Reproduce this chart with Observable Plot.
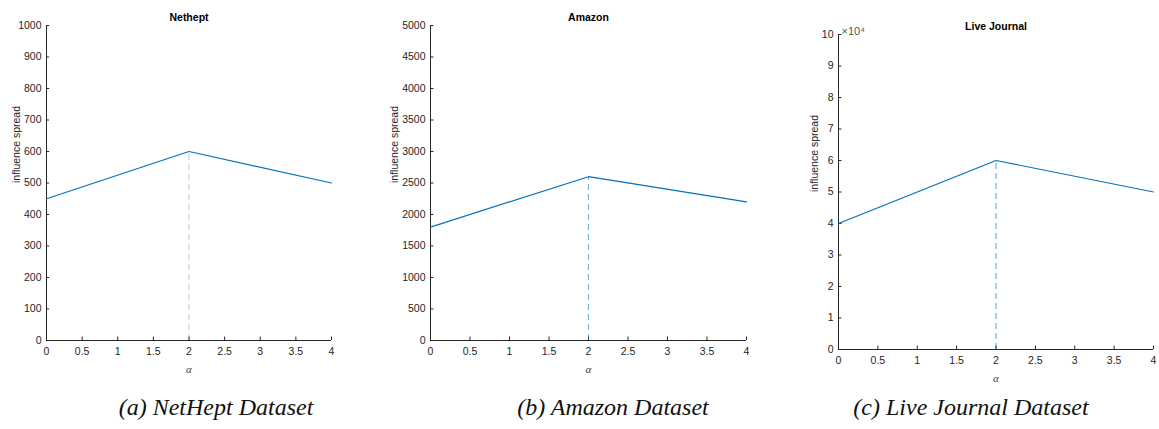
<!DOCTYPE html>
<html>
<head>
<meta charset="utf-8">
<script src="https://cdn.jsdelivr.net/npm/d3@7"></script>
<script src="https://cdn.jsdelivr.net/npm/@observablehq/plot@0.6"></script>
<style>
  body { margin: 0; background: #fff; }
  #wrap { position: relative; width: 1159px; height: 429px; overflow: hidden; background: #fff; }
  .panel { position: absolute; top: 0; }
  .caption { position: absolute; top: 394px; font-family: "Liberation Serif", "Times New Roman", serif; font-style: italic; font-size: 24px; color: #111; white-space: nowrap; transform: translateX(-50%); }
</style>
</head>
<body>
<div id="wrap"></div>
<script>
// ---- data ----
const alpha = [0, 2, 4];
const nethept = [450, 600, 500];
const amazon = [1800, 2600, 2200];
const liveJournal = [40000, 60000, 50000];
const alphaTicks = [0, 0.5, 1, 1.5, 2, 2.5, 3, 3.5, 4];
const netheptTicks = [0, 100, 200, 300, 400, 500, 600, 700, 800, 900, 1000];
const amazonTicks = [0, 500, 1000, 1500, 2000, 2500, 3000, 3500, 4000, 4500, 5000];
const ljTicks = [0, 10000, 20000, 30000, 40000, 50000, 60000, 70000, 80000, 90000, 100000];
const titles = ["Nethept", "Amazon", "Live Journal"];
const captions = ["(a) NetHept Dataset", "(b) Amazon Dataset", "(c) Live Journal Dataset"];
const peakAlpha = 2;

const wrap = document.getElementById("wrap");
const axisColor = "#262626";
const lineColor = "#0072BD";

function panel({values, yTicks, yMax, tickFmt, title, left, width, height, mt, mb, mr, dashOpacity, exponent, labelDx}) {
  const rows = alpha.map((a, i) => ({a, v: values[i]}));
  const peak = values[alpha.indexOf(peakAlpha)];
  const marks = [
    Plot.ruleX([0], {stroke: axisColor, strokeWidth: 1}),
    Plot.ruleY([0], {stroke: axisColor, strokeWidth: 1}),
    // inward ticks
    Plot.ruleX(alphaTicks, {x: d => d, y1: 0, y2: yMax * 0.011, stroke: axisColor}),
    Plot.ruleY(yTicks, {y: d => d, x1: 0, x2: 4 * 0.011, stroke: axisColor}),
    Plot.ruleX([peakAlpha], {y1: 0, y2: peak, stroke: lineColor, strokeOpacity: dashOpacity, strokeDasharray: "6,4", strokeWidth: 1.1}),
    Plot.line(rows, {x: "a", y: "v", stroke: lineColor, strokeWidth: 1.2}),
    Plot.text([title], {frameAnchor: "top", lineAnchor: "bottom", dy: -5, fontWeight: "bold", fontSize: 10.5, fill: "#000"}),
    Plot.text(["influence spread"], {frameAnchor: "left", rotate: -90, dx: labelDx, fontSize: 10.5, fill: axisColor}),
    Plot.text(["α"], {frameAnchor: "bottom", dy: 32, fontFamily: "Liberation Serif, serif", fontStyle: "italic", fontSize: 11, fill: "#444"})
  ];
  if (exponent) {
    marks.push(Plot.text([exponent], {frameAnchor: "top-left", textAnchor: "start", dx: 3, dy: -7, fontSize: 11, fill: "#555"}));
  }
  const svg = Plot.plot({
    width, height,
    marginLeft: 46, marginRight: mr, marginTop: mt, marginBottom: mb,
    style: {fontFamily: "Liberation Sans, Arial, sans-serif", fontSize: "10.5px", color: axisColor, background: "transparent"},
    x: {domain: [0, 4], ticks: alphaTicks, tickFormat: d => String(d), tickSize: 0, tickPadding: 7, label: null},
    y: {domain: [0, yMax], ticks: yTicks, tickFormat: tickFmt, tickSize: 0, tickPadding: 5, label: null},
    marks
  });
  const div = document.createElement("div");
  div.className = "panel";
  div.style.left = left + "px";
  div.style.width = width + "px";
  div.appendChild(svg);
  wrap.appendChild(div);
}

panel({values: nethept, yTicks: netheptTicks, yMax: 1000, tickFmt: d => String(d), title: titles[0],
  left: 0, width: 345, height: 390, mt: 25, mb: 50, mr: 14, dashOpacity: 0.3, labelDx: -30});
panel({values: amazon, yTicks: amazonTicks, yMax: 5000, tickFmt: d => String(d), title: titles[1],
  left: 384, width: 372, height: 390, mt: 25, mb: 50, mr: 10, dashOpacity: 0.55, labelDx: -36});
panel({values: liveJournal, yTicks: ljTicks, yMax: 100000, tickFmt: d => String(d / 10000), title: titles[2],
  left: 792, width: 367, height: 383, mt: 34, mb: 34, mr: 6, dashOpacity: 0.6, exponent: "×10⁴", labelDx: -24});

const capX = [216, 613, 971];
captions.forEach((c, i) => {
  const d = document.createElement("div");
  d.className = "caption";
  d.style.left = capX[i] + "px";
  d.textContent = c;
  wrap.appendChild(d);
});
</script>
</body>
</html>
